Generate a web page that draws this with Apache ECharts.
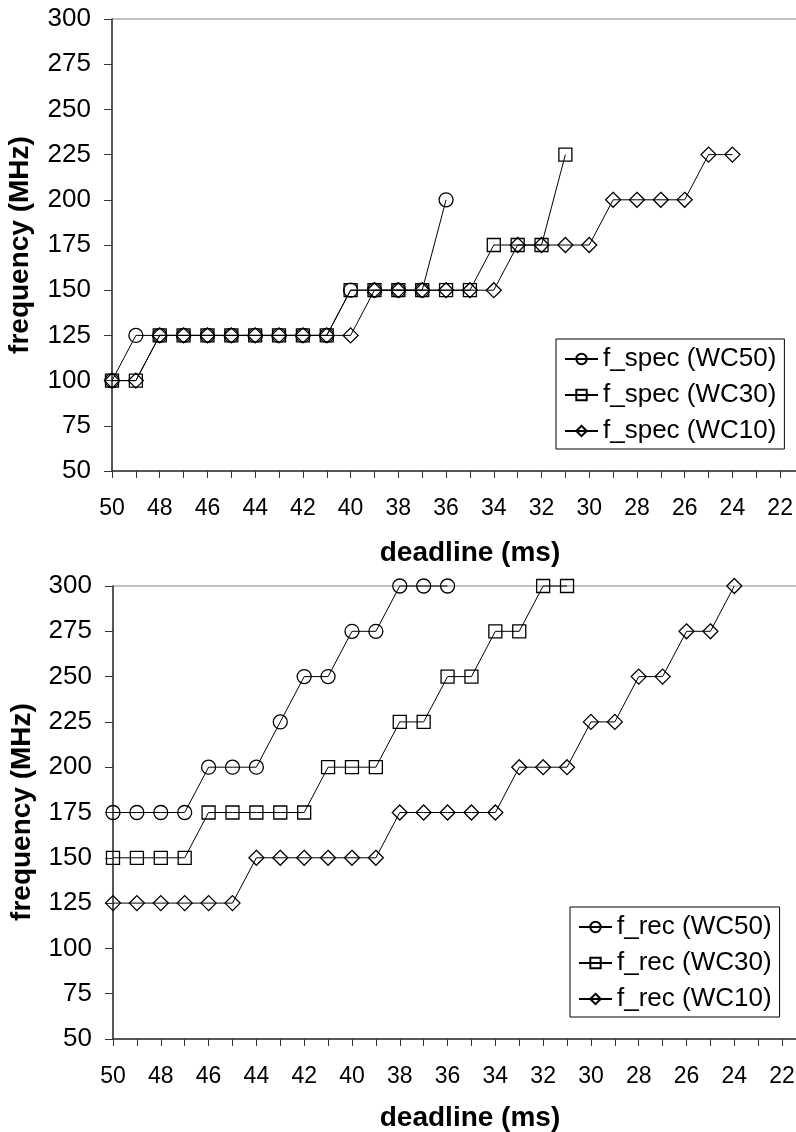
<!DOCTYPE html>
<html>
<head>
<meta charset="utf-8">
<script src="https://cdn.jsdelivr.net/npm/echarts@6/dist/echarts.min.js"></script>
<style>
html,body{margin:0;padding:0;background:#fff;}
#c{width:796px;height:1132px;}
</style>
</head>
<body>
<div id="c"></div>
<script>
// ---- data ----
const deadlines = [50,49,48,47,46,45,44,43,42,41,40,39,38,37,36,35,34,33,32,31,30,29,28,27,26,25,24];
const xTickLabels = [50,48,46,44,42,40,38,36,34,32,30,28,26,24,22];
const yTickLabels = [50,75,100,125,150,175,200,225,250,275,300];

const specNames = ['f_spec (WC50)','f_spec (WC30)','f_spec (WC10)'];
const specWC50 = [100,125,125,125,125,125,125,125,125,125,150,150,150,150,200];
const specWC30 = [100,100,125,125,125,125,125,125,125,125,150,150,150,150,150,150,175,175,175,225];
const specWC10 = [100,100,125,125,125,125,125,125,125,125,125,150,150,150,150,150,150,175,175,175,175,200,200,200,200,225,225];

const recNames = ['f_rec (WC50)','f_rec (WC30)','f_rec (WC10)'];
const recWC50 = [175,175,175,175,200,200,200,225,250,250,275,275,300,300,300];
const recWC30 = [150,150,150,150,175,175,175,175,175,200,200,200,225,225,250,250,275,275,300,300];
const recWC10 = [125,125,125,125,125,125,150,150,150,150,150,150,175,175,175,175,175,200,200,200,225,225,250,250,275,275,300];

const xTitle = 'deadline (ms)';
const yTitle = 'frequency (MHz)';

// ---- helpers ----
const FONT = 'Liberation Sans, Arial, Helvetica, sans-serif';
function pts(vals){ return vals.map((v,i)=>[deadlines[i], v]); }
const symbols = ['circle','rect','diamond'];
const symSizes = [14,13,15];

function mkSeries(names, arrs, gi){
  return arrs.map((a,k)=>({
    type:'line', name:names[k], xAxisIndex:gi, yAxisIndex:gi,
    data:pts(a), symbol:symbols[k], symbolSize:symSizes[k], showAllSymbol:true,
    clip:false,
    lineStyle:{color:'#000', width:1},
    itemStyle:{color:'rgba(255,255,255,0)', borderColor:'#000', borderWidth:1.3},
    emphasis:{disabled:true}
  }));
}

function xAxis(gi){
  return {
    gridIndex:gi, type:'value', inverse:true, min:21, max:50, interval:1,
    axisLine:{show:true, onZero:false, lineStyle:{color:'#333', width:1.5}},
    axisTick:{show:true, inside:false, length:7, lineStyle:{color:'#333', width:1}},
    axisLabel:{show:true, margin:26, fontSize:23, color:'#000', fontFamily:FONT,
      formatter:(v)=> xTickLabels.indexOf(v) >= 0 ? String(v) : ''},
    splitLine:{show:false}
  };
}
function yAxis(gi){
  return {
    gridIndex:gi, type:'value', min:50, max:300, interval:25,
    axisLine:{show:true, lineStyle:{color:'#333', width:1.5}},
    axisTick:{show:true, inside:false, length:8, lineStyle:{color:'#333', width:1}},
    axisLabel:{show:true, margin:21, fontSize:26, color:'#000', fontFamily:FONT,
      formatter:(v)=> yTickLabels.indexOf(v) >= 0 ? String(v) : ''},
    splitLine:{show:false}
  };
}
function legend(gi, names, left, top){
  return {
    show:true, orient:'vertical', left:left, top:top,
    data:names,
    itemWidth:33, itemHeight:13, itemGap:10,
    padding:[7,8,5,8],
    backgroundColor:'#fff', borderColor:'#000', borderWidth:1,
    textStyle:{fontSize:26, color:'#000', fontFamily:FONT},
    selectedMode:false
  };
}
function txt(x,y,t,rot){
  return {type:'text', x:x, y:y, rotation:rot||0,
    style:{text:t, fill:'#000', font:'bold 28px '+FONT, textAlign:'center', textVerticalAlign:'middle'}};
}

const chart = echarts.init(document.getElementById('c'), null, {renderer:'canvas'});
chart.setOption({
  animation:false,
  backgroundColor:'#fff',
  grid:[
    {left:112, top:19, width:692, height:452, outerBoundsMode:'none', containLabel:false, show:true, borderColor:'#888', borderWidth:1, backgroundColor:'transparent'},
    {left:113, top:586, width:693, height:453, outerBoundsMode:'none', containLabel:false, show:true, borderColor:'#888', borderWidth:1, backgroundColor:'transparent'}
  ],
  xAxis:[xAxis(0), xAxis(1)],
  yAxis:[yAxis(0), yAxis(1)],
  legend:[legend(0, specNames, 556, 339), legend(1, recNames, 570, 907)],
  series:[...mkSeries(specNames,[specWC50,specWC30,specWC10],0), ...mkSeries(recNames,[recWC50,recWC30,recWC10],1)],
  graphic:[
    txt(470,553,xTitle), txt(470,1118,xTitle),
    txt(20,245,yTitle,Math.PI/2), txt(22,812,yTitle,Math.PI/2)
  ]
});
</script>
</body>
</html>
